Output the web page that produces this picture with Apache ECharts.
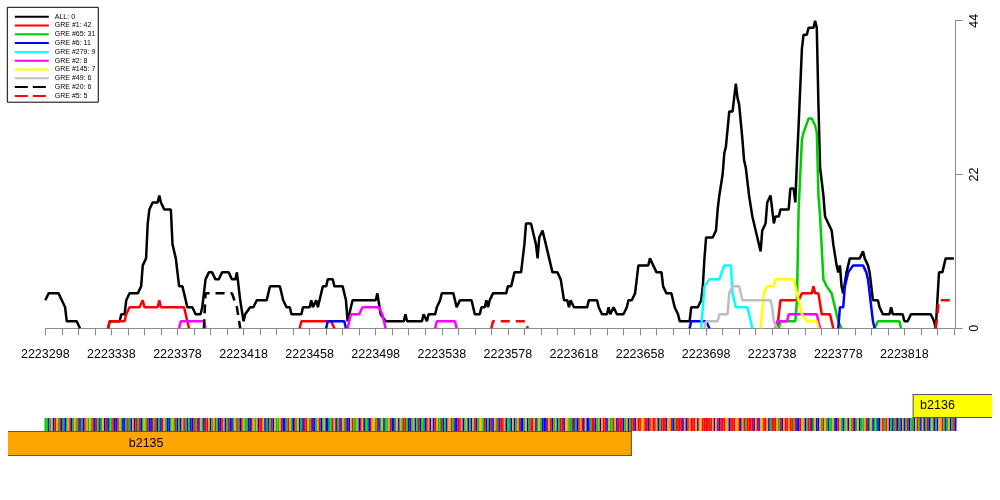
<!DOCTYPE html>
<html>
<head>
<meta charset="utf-8">
<script src="https://cdn.jsdelivr.net/npm/echarts@6/dist/echarts.min.js"></script>
<style>
  html, body { margin: 0; padding: 0; background: #fff; }
  #chart { width: 1000px; height: 500px; }
</style>
</head>
<body>
<div id="chart"></div>
<script>
// --- data (position, count); null breaks a line ---
var allCounts = [[2223298,4],[2223300,5],[2223306,5],[2223308,4],[2223310,3],[2223311,1],[2223317,1],[2223319,0],null,
  [2223336,0],[2223337,1],[2223343,1],[2223344,2],[2223346,2],[2223347,4],[2223349,5],[2223354,5],[2223356,6],[2223357,9],[2223359,10],[2223360,15],[2223361,17],[2223363,18],[2223366,18],[2223367,19],[2223368,18],[2223370,17],[2223374,17],[2223375,12],[2223377,10],[2223379,6],[2223381,6],[2223384,3],[2223387,3],[2223389,2],[2223392,2],[2223393,3],[2223394,3],[2223395,7],[2223397,8],[2223399,8],[2223401,7],[2223403,7],[2223405,8],[2223409,8],[2223411,7],[2223413,7],[2223414,8],[2223415,8],[2223416,4],[2223418,1],[2223419,2],[2223420,2],[2223422,3],[2223424,3],[2223426,4],[2223432,4],[2223434,6],[2223440,6],[2223442,4],[2223444,3],[2223446,3],[2223447,2],[2223453,2],[2223454,3],[2223458,3],[2223459,4],[2223460,3],[2223462,4],[2223463,3],[2223464,4],[2223466,6],[2223468,6],[2223469,7],[2223472,7],[2223473,6],[2223478,6],[2223480,4],[2223481,1],[2223482,2],[2223484,4],[2223498,4],[2223499,5],[2223500,5],[2223501,2],[2223504,1],[2223515,1],[2223516,2],[2223517,1],[2223526,1],[2223527,2],[2223529,1],[2223530,2],[2223534,2],[2223535,3],[2223537,4],[2223538,5],[2223545,5],[2223547,3],[2223549,4],[2223556,4],[2223558,2],[2223561,2],[2223562,3],[2223564,3],[2223565,4],[2223566,3],[2223567,4],[2223569,5],[2223577,5],[2223578,6],[2223580,6],[2223582,8],[2223586,8],[2223588,12],[2223589,15],[2223592,15],[2223593,14],[2223595,12],[2223596,10],[2223597,13],[2223599,14],[2223601,12],[2223602,11],[2223605,8],[2223608,8],[2223610,7],[2223612,4],[2223614,4],[2223615,3],[2223616,4],[2223618,3],[2223626,3],[2223627,4],[2223632,4],[2223633,3],[2223635,2],[2223638,2],[2223639,3],[2223640,2],[2223642,3],[2223643,3],[2223644,2],[2223648,2],[2223650,3],[2223651,4],[2223653,4],[2223655,5],[2223656,5],[2223657,9],[2223663,9],[2223664,10],[2223666,9],[2223667,9],[2223668,8],[2223671,8],[2223672,6],[2223674,5],[2223677,5],[2223679,3],[2223681,2],[2223682,1],[2223688,1],[2223689,3],[2223693,3],[2223695,4],[2223696,6],[2223697,10],[2223698,13],[2223702,13],[2223704,14],[2223705,17],[2223706,19],[2223708,22],[2223709,25],[2223710,26],[2223711,26],[2223712,31],[2223714,31],[2223715,33],[2223716,35],[2223717,33],[2223718,32],[2223719,32],[2223720,27],[2223721,24],[2223722,23],[2223723,23],[2223724,19],[2223726,16],[2223728,14],[2223731,11],[2223732,14],[2223734,15],[2223735,18],[2223736,18],[2223737,19],[2223738,17],[2223739,15],[2223740,16],[2223742,16],[2223743,17],[2223748,17],[2223749,20],[2223751,20],[2223752,18],[2223753,24],[2223754,29],[2223756,40],[2223757,42],[2223759,42],[2223760,43],[2223763,43],[2223764,44],[2223765,43],[2223766,32],[2223767,23],[2223769,19],[2223770,16],[2223772,15],[2223774,14],[2223775,12],[2223777,9],[2223778,8],[2223779,9],[2223780,6],[2223781,5],[2223783,8],[2223785,10],[2223791,10],[2223793,11],[2223794,10],[2223796,9],[2223797,8],[2223799,4],[2223802,4],[2223803,3],[2223805,2],[2223809,2],[2223810,3],[2223811,2],[2223817,2],[2223818,1],[2223820,1],[2223822,2],[2223834,2],[2223836,1],[2223837,0],[2223839,8],[2223841,8],[2223843,10],[2223848,10]];
var gre1 = [[2223336,0],[2223337,1],[2223346,1],[2223347,2],[2223349,3],[2223355,3],[2223357,4],[2223358,3],[2223366,3],[2223367,4],[2223368,3],[2223382,3],[2223384,1],[2223385,0],null,
  [2223452,0],[2223453,1],[2223471,1],[2223473,0],null,
  [2223741,0],[2223743,4],[2223754,4],[2223756,5],[2223762,5],[2223763,6],[2223764,5],[2223766,5],[2223768,2],[2223773,2],[2223775,0]];
var gre65 = [[2223742,0],[2223743,1],[2223752,1],[2223753,4],[2223754,17],[2223756,27],[2223757,28],[2223758,28],[2223760,30],[2223762,30],[2223764,29],[2223765,28],[2223766,19],[2223767,16],[2223769,7],[2223771,6],[2223774,5],[2223775,5],[2223777,2],[2223778,1],[2223780,0],null,
  [2223800,0],[2223802,1],[2223815,1],[2223816,0]];
var gre6 = [[2223468,0],[2223469,1],[2223479,1],[2223480,0],null,
  [2223688,0],[2223689,1],[2223698,1],[2223700,0],null,
  [2223778,0],[2223779,3],[2223781,3],[2223782,6],[2223784,8],[2223785,8],[2223787,9],[2223793,9],[2223795,8],[2223796,7],[2223798,3],[2223799,1],[2223800,0]];
var gre279 = [[2223695,0],[2223697,6],[2223700,7],[2223706,7],[2223709,9],[2223713,9],[2223714,5],[2223716,3],[2223723,3],[2223726,0]];
var gre2 = [[2223379,0],[2223380,1],[2223394,1],[2223395,0],null,
  [2223481,0],[2223483,2],[2223488,2],[2223490,3],[2223500,3],[2223502,2],[2223504,0],null,
  [2223534,0],[2223535,1],[2223546,1],[2223547,0],null,
  [2223740,0],[2223741,1],[2223747,1],[2223748,2],[2223765,2],[2223767,0]];
var gre145 = [[2223731,0],[2223733,5],[2223735,6],[2223739,6],[2223740,7],[2223751,7],[2223753,5],[2223756,2],[2223759,1],[2223765,1],[2223766,0]];
var gre49 = [[2223697,0],[2223698,1],[2223705,1],[2223706,2],[2223711,2],[2223712,5],[2223714,6],[2223718,6],[2223720,4],[2223737,4],[2223738,3],[2223739,1],[2223741,0]];
var gre20 = [[2223394,0],[2223395,5],[2223411,5],[2223414,3],[2223416,0]];
var gre5 = [[2223568,0],[2223569,1],[2223589,1],[2223590,0],null,
  [2223837,0],[2223839,4],[2223848,4]];

var seriesNames = ['ALL: 0', 'GRE #1: 42', 'GRE #65: 31', 'GRE #6: 11', 'GRE #279: 9',
                   'GRE #2: 8', 'GRE #145: 7', 'GRE #49: 6', 'GRE #20: 6', 'GRE #5: 5'];
var seriesData = [allCounts, gre1, gre65, gre6, gre279, gre2, gre145, gre49, gre20, gre5];
var seriesColors = ['#000000', '#ff0000', '#00cd00', '#0000ff', '#00ffff',
                    '#ff00ff', '#ffff00', '#bebebe', '#000000', '#ff0000'];
var dashed = [false, false, false, false, false, false, false, false, true, true];

// genomic window and x tick labels
var xStart = 2223298, xEnd = 2223848;
var xLabels = [2223298, 2223338, 2223378, 2223418, 2223458, 2223498, 2223538,
               2223578, 2223618, 2223658, 2223698, 2223738, 2223778, 2223818];
var yTicks = [0, 22, 44];

// genes under the plot
var geneNames = ['b2135', 'b2136'];
var geneStart = [2223065, 2223823];
var geneEnd = [2223653, 2223900];
var geneStrand = ['-', '+'];
var geneLabelAt = [2223359, 2223838];

// sequence, one letter per position from xStart
var seq = 'AACAGCTGATCACAGTCAGATCACTGAGATCTACAGCTCAATCCTGACCA' +
          'TACGCTATCAGATCCTATCACTGACCAGATCACGTACACCTATCGACTTG' +
          'CAGTACCTGCATCCAGTACTGAACCTGAGCTTGCACATCGAAGTCCATGA' +
          'CTAGCACTTGATCCAGTCAGCCAATGCATCGATCCGTAAGCTGCAACTGG' +
          'ATCAGCAAGTCCAGCGATTACCAGCATCAACTGCGCTGAATCACGGTACC' +
          'TTGCAGCACGTCAGGATCACTCGATCTTGCAACGCAGTCCAGCATTGCAG' +
          'ACCCTGTCAGCATTCGGAATCACTGTCGCCATTCAGCGTTCGAATGCTTT' +
          'CAGCATTCGTTGGTTCTGTTGCATTTCGGTCATTTTCGCTGTTTGCGGTT' +
          'TTTTGCGTCTTTGGCTTTGGTCGTATTTTCGTCGGTTGCATTTGATCGTT' +
          'GTTATCCTGGCATTCAGCCGATGACAAGCCTGACAGCGATCAGCAAGTCA' +
          'GCAACCGTATGCACATCACGCATCAACGTACGCATCAGCACGGTACAGCATC';

// --- chart ---
var FONT = "'Liberation Sans', Arial, Helvetica, sans-serif";
var AXIS_GRAY = '#8a8a8a';
var baseColor = { A: '#00cc00', C: '#0000ff', G: '#ffa500', T: '#ff0000' };

var chart = echarts.init(document.getElementById('chart'), null, { renderer: 'canvas' });

function toLine(arr) {
  return arr.map(function (p) { return p === null ? ['-', '-'] : p; });
}

var series = seriesData.map(function (arr, i) {
  return {
    name: seriesNames[i],
    type: 'line',
    xAxisIndex: 0,
    yAxisIndex: 0,
    data: toLine(arr),
    symbol: 'none',
    connectNulls: false,
    clip: false,
    color: seriesColors[i],
    lineStyle: { color: seriesColors[i], width: 2.5, type: dashed[i] ? [9, 6] : 'solid' },
    emphasis: { disabled: true },
    z: 2 + i
  };
});

// track layout in the lower panel (y units, top down)
var TRACK_PLUS = [0, 24], TRACK_SEQ = [24, 37], TRACK_MINUS = [37, 62];

series.push({
  type: 'custom',
  xAxisIndex: 1,
  yAxisIndex: 1,
  silent: true,
  data: seq.split('').map(function (b, i) { return [xStart + i, i]; }),
  renderItem: function (params, api) {
    var pos = api.value(0);
    var p0 = api.coord([pos - 0.5, TRACK_SEQ[0]]);
    var p1 = api.coord([pos + 0.5, TRACK_SEQ[1]]);
    var b = seq.charAt(api.value(1));
    return {
      type: 'rect',
      shape: { x: p0[0], y: p0[1], width: p1[0] - p0[0], height: p1[1] - p0[1] },
      style: { fill: baseColor[b] }
    };
  }
});

series.push({
  type: 'custom',
  xAxisIndex: 1,
  yAxisIndex: 1,
  silent: true,
  data: geneNames.map(function (n, i) { return [geneStart[i], geneEnd[i], geneLabelAt[i], i]; }),
  renderItem: function (params, api) {
    var i = api.value(3);
    var tr = geneStrand[i] === '+' ? TRACK_PLUS : TRACK_MINUS;
    var a = api.coord([api.value(0), tr[0]]);
    var b = api.coord([api.value(1), tr[1]]);
    var cs = params.coordSys;
    var left = Math.max(a[0], cs.x), right = Math.min(b[0], cs.x + cs.width);
    var top = a[1], bottom = b[1];
    var lab = api.coord([api.value(2), 0]);
    var children = [
      { type: 'rect', shape: { x: left, y: top, width: right - left, height: bottom - top },
        style: { fill: i === 0 ? '#ffa500' : '#ffff00' } },
      { type: 'line', shape: { x1: left, y1: top + 0.5, x2: right, y2: top + 0.5 },
        style: { stroke: '#555', lineWidth: 1 } },
      { type: 'line', shape: { x1: left, y1: bottom - 0.5, x2: right, y2: bottom - 0.5 },
        style: { stroke: '#555', lineWidth: 1 } },
      { type: 'text', style: { x: lab[0], y: (top + bottom) / 2, text: geneNames[i],
        align: 'center', verticalAlign: 'middle', fill: '#000', font: '12.5px ' + FONT } }
    ];
    if (a[0] >= cs.x) children.push({ type: 'line', shape: { x1: a[0] + 0.5, y1: top, x2: a[0] + 0.5, y2: bottom },
      style: { stroke: '#555', lineWidth: 1 } });
    if (b[0] <= cs.x + cs.width) children.push({ type: 'line', shape: { x1: b[0] - 0.5, y1: top, x2: b[0] - 0.5, y2: bottom },
      style: { stroke: '#555', lineWidth: 1 } });
    return { type: 'group', children: children };
  }
});

chart.setOption({
  animation: false,
  backgroundColor: '#fff',
  textStyle: { fontFamily: FONT },
  grid: [
    { left: 45.3, right: 46.1, top: 20.7, height: 307.6 },
    { left: 8, right: 8, top: 394, height: 62 }
  ],
  legend: {
    orient: 'vertical',
    left: 7.3,
    top: 7.3,
    padding: [5.9, 3, 2.8, 6.5],
    itemWidth: 34,
    itemHeight: 7,
    itemGap: 1.8,
    borderColor: '#000',
    borderWidth: 1,
    selectedMode: false,
    itemStyle: { opacity: 0 },
    lineStyle: { width: 2 },
    textStyle: { fontSize: 7, color: '#000', fontFamily: FONT, padding: [0, 0, 0, 1] },
    data: seriesNames.map(function (n, i) {
      return dashed[i] ? { name: n, lineStyle: { type: [13, 5], width: 2 } } : { name: n };
    })
  },
  xAxis: [
    {
      type: 'value', gridIndex: 0, min: xStart, max: xEnd, interval: 10,
      offset: 8.4,
      axisLine: { show: true, lineStyle: { color: AXIS_GRAY, width: 1 } },
      axisTick: { show: true, length: 7, lineStyle: { color: AXIS_GRAY, width: 1 } },
      splitLine: { show: false },
      axisLabel: {
        margin: 11, fontSize: 12.5, color: '#000', fontFamily: FONT,
        formatter: function (v) { return xLabels.indexOf(v) >= 0 ? String(v) : ''; }
      }
    },
    { type: 'value', gridIndex: 1, min: 2223275.4, max: 2223871, show: false }
  ],
  yAxis: [
    {
      type: 'value', gridIndex: 0, position: 'right', offset: 1.1,
      min: yTicks[0], max: yTicks[2], interval: yTicks[1] - yTicks[0],
      axisLine: { show: true, lineStyle: { color: AXIS_GRAY, width: 1 } },
      axisTick: { show: true, length: 7.5, lineStyle: { color: AXIS_GRAY, width: 1 } },
      splitLine: { show: false },
      axisLabel: { rotate: 90, margin: 13, fontSize: 12.5, color: '#000', fontFamily: FONT }
    },
    { type: 'value', gridIndex: 1, min: 0, max: 62, inverse: true, show: false }
  ],
  series: series
});
</script>
</body>
</html>
